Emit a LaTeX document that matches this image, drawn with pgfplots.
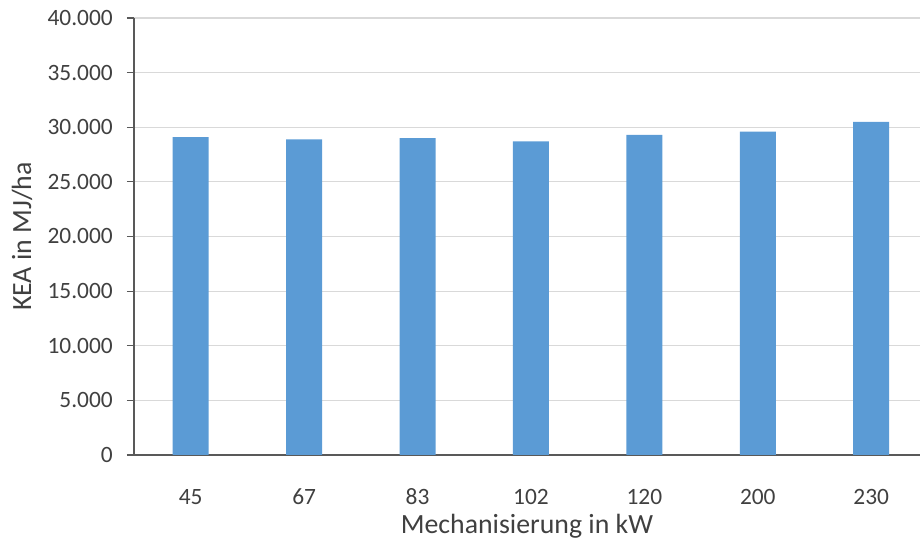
\documentclass[border=0pt]{standalone}
\usepackage{pgfplots}
\pgfplotsset{compat=1.18}
\usepackage{fontspec}
\setmainfont{Carlito}
\definecolor{barblue}{HTML}{5B9BD5}
\definecolor{gridgray}{HTML}{D9D9D9}
\definecolor{textgray}{HTML}{404040}
\definecolor{axisgray}{HTML}{595959}
\begin{document}
\fontsize{11.7}{14}\selectfont
\begin{tikzpicture}
\begin{axis}[
  scale only axis,
  width=393pt, height=218.5pt,
  xmin=-0.5, xmax=6.43,
  ymin=0, ymax=40000,
  ytick distance=5000,
  scaled ticks=false,
  xtick=data,
  xticklabels={45,67,83,102,120,200,230},
  axis x line*=bottom,
  axis y line*=left,
  axis line style={axisgray, line width=0.6pt},
  ymajorgrids,
  grid style={gridgray, line width=0.6pt},
  major x tick style={draw=none},
  major y tick style={axisgray, line width=0.6pt},
  tick align=outside,
  major tick length=3.5pt,
  yticklabel={\pgfmathprintnumber[1000 sep={.}]{\tick}},
  /pgf/number format/assume math mode=true,
  ticklabel style={font=\fontsize{11.7}{14}\selectfont, text=textgray},
  yticklabel style={xshift=-3pt},
  xticklabel style={anchor=center, text height=1.6ex, text depth=0.3ex, yshift=-17.5pt},
  xlabel={Mechanisierung in kW},
  ylabel={KEA in MJ/ha},
  label style={font=\fontsize{13.9}{16}\selectfont, text=textgray},
  xlabel style={at={(axis description cs:0.5,0)}, anchor=center, yshift=-35.5pt},
  ylabel style={at={(axis description cs:-0.1425,0.5)}, anchor=center},
  ybar, bar width=18pt,
  clip=false,
]
\addplot[fill=barblue, draw=none] coordinates {
  (0,29100) (1,28900) (2,29000) (3,28700) (4,29300) (5,29600) (6,30500)
};
\end{axis}
\pgfresetboundingbox
\path[use as bounding box] (-67pt,-45pt) rectangle (393pt,227.5pt);
\end{tikzpicture}
\end{document}
